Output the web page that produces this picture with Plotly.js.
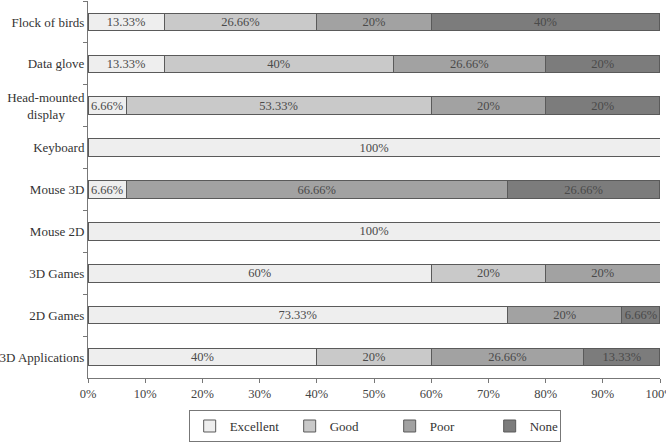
<!DOCTYPE html>
<html>
<head>
<meta charset="utf-8">
<script src="https://cdn.plot.ly/plotly-3.0.1.min.js"></script>
<style>
  html, body { margin: 0; padding: 0; background: #fff; }
  #chart { width: 666px; height: 448px; }
</style>
</head>
<body>
<div id="chart"></div>
<script>
// Devices, listed top to bottom
const devices = [
  'Flock of birds', 'Data glove', 'Head-mounted<br>display\u00a0\u00a0\u00a0\u00a0\u00a0\u00a0', 'Keyboard',
  'Mouse 3D', 'Mouse 2D', '3D Games', '2D Games', '3D Applications'
];

// Share of ratings per device (%)
const excellent = [13.33, 13.33, 6.66, 100, 6.66, 100, 60, 73.33, 40];
const good      = [26.66, 40, 53.33, 0, 0, 0, 20, 0, 20];
const poor      = [20, 26.66, 20, 0, 66.66, 0, 20, 20, 26.66];
const none      = [40, 20, 20, 0, 26.66, 0, 0, 6.66, 13.33];

const seriesNames  = ['Excellent', 'Good', 'Poor', 'None'];
const seriesColors = ['#eeeeee', '#c9c9c9', '#a2a2a2', '#7c7c7c'];
const seriesValues = [excellent, good, poor, none];
// legend entry widths (px); the last entry only needs room for its own text
const entryWidths  = [55, 55, 55, 25];

const FONT = 'Liberation Serif, Times New Roman, serif';

const traces = seriesValues.map((vals, i) => ({
  type: 'bar',
  orientation: 'h',
  name: seriesNames[i],
  y: devices,
  x: vals,
  text: vals.map(v => (v ? v + '%' : '')),
  textposition: 'inside',
  insidetextanchor: 'middle',
  textangle: 0,
  constraintext: 'none',
  textfont: { family: FONT, size: 12.5, color: '#4a4a4a' },
  marker: { color: seriesColors[i], line: { color: '#5a5a5a', width: 1 } },
  legendwidth: entryWidths[i],
  hoverinfo: 'skip'
}));

const layout = {
  width: 666,
  height: 448,
  margin: { l: 88, r: 6, t: 1, b: 70 },
  paper_bgcolor: '#ffffff',
  plot_bgcolor: '#ffffff',
  barmode: 'stack',
  bargap: 0.58,
  font: { family: FONT, size: 13, color: '#333333' },
  showlegend: true,
  legend: {
    orientation: 'h',
    x: 0.176, xanchor: 'left',
    y: -0.085, yanchor: 'top',
    bordercolor: '#777777', borderwidth: 1,
    font: { family: FONT, size: 13, color: '#333333' },
    traceorder: 'normal'
  },
  xaxis: {
    range: [0, 100],
    dtick: 10,
    ticksuffix: '%',
    ticks: 'outside', ticklen: 4, tickcolor: '#777777',
    showline: true, linecolor: '#777777', linewidth: 1,
    showgrid: false, zeroline: false,
    ticklabeloverflow: 'allow',
    tickfont: { family: FONT, size: 12.5, color: '#444444' },
    fixedrange: true
  },
  yaxis: {
    categoryorder: 'array',
    categoryarray: devices,
    autorange: 'reversed',
    tickson: 'boundaries',
    ticks: 'outside', ticklen: 4, tickcolor: '#777777',
    showline: true, linecolor: '#777777', linewidth: 1,
    showgrid: false, zeroline: false,
    tickfont: { family: FONT, size: 13, color: '#333333' },
    automargin: false,
    fixedrange: true
  }
};

Plotly.newPlot('chart', traces, layout, { displayModeBar: false, staticPlot: true });
</script>
</body>
</html>
